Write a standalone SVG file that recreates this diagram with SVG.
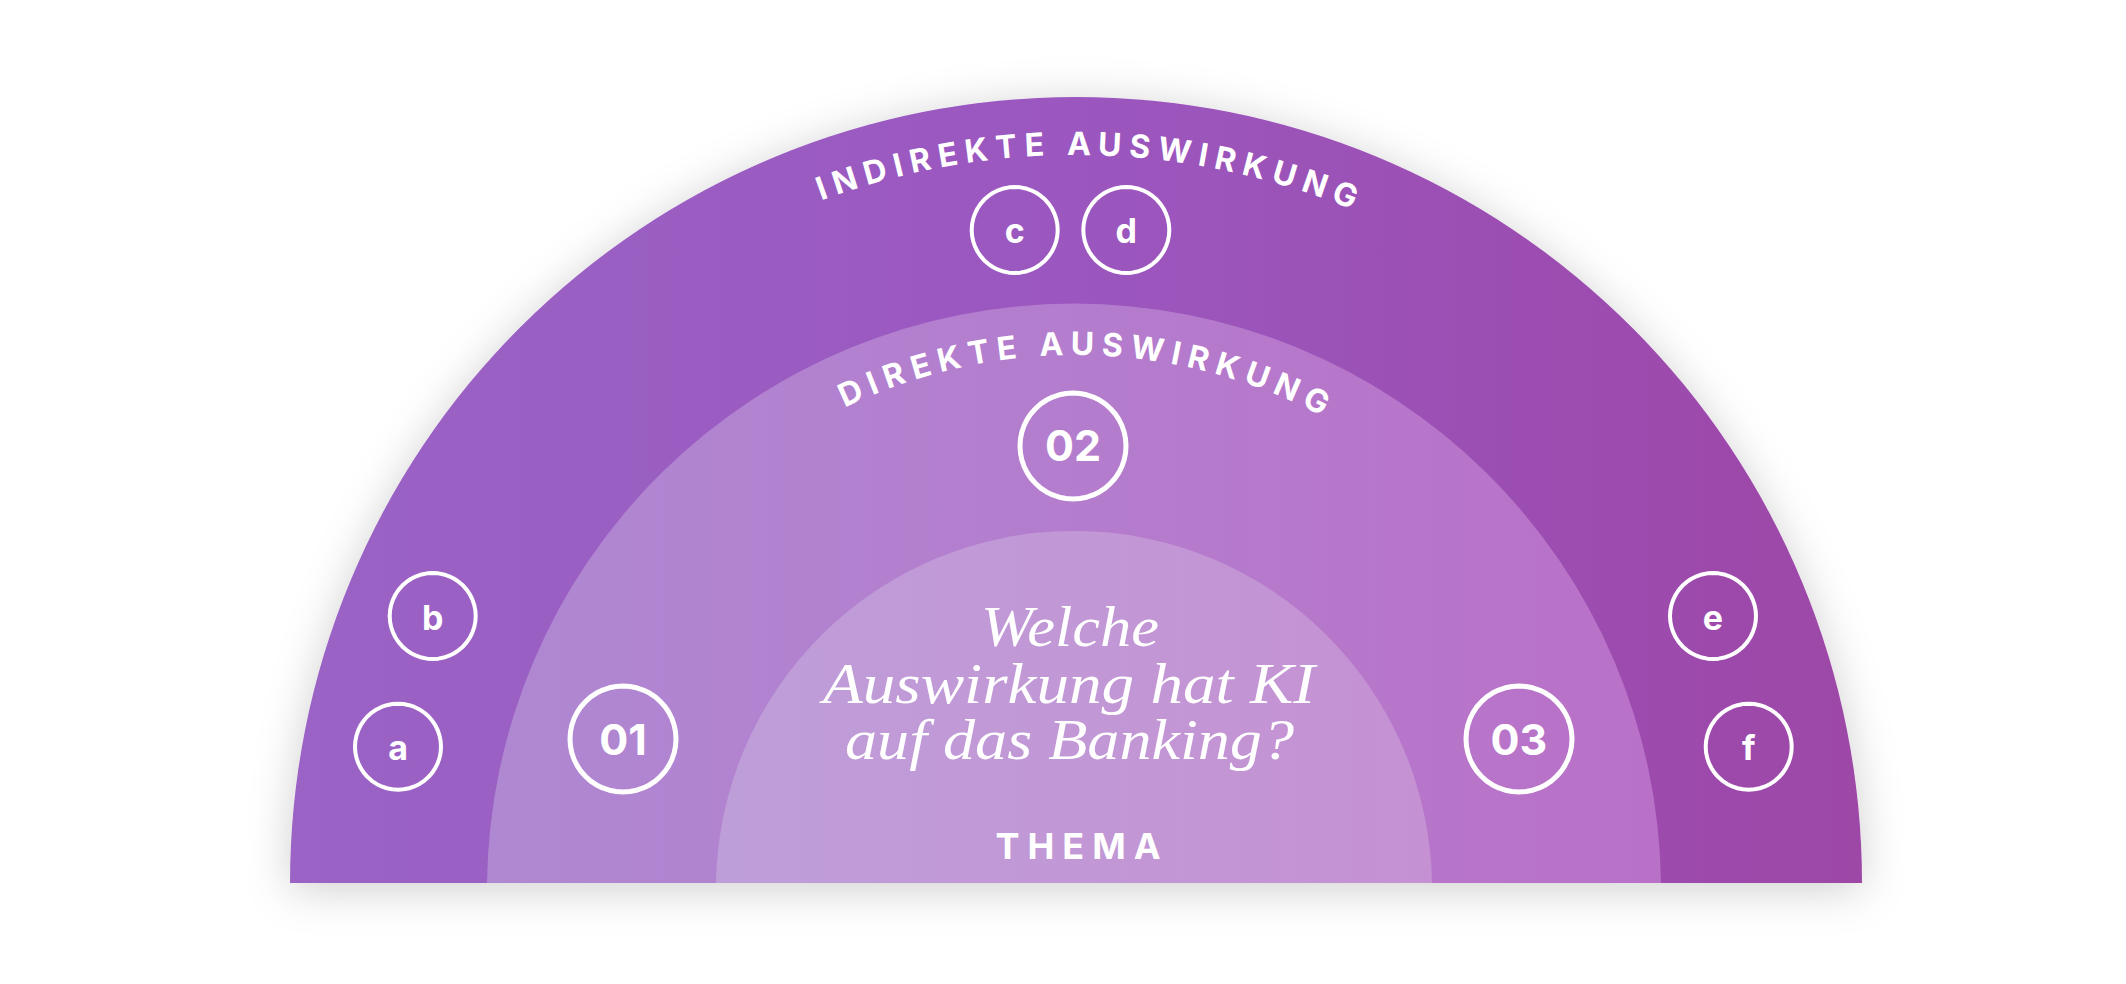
<svg xmlns="http://www.w3.org/2000/svg" width="2126" height="984" viewBox="0 0 2126 984">
  <defs>
    <linearGradient id="gOuter" gradientUnits="userSpaceOnUse" x1="290" y1="0" x2="1862" y2="0">
      <stop offset="0" stop-color="#9A63C5"/>
      <stop offset="0.5" stop-color="#9B57BF"/>
      <stop offset="1" stop-color="#9D47A7"/>
    </linearGradient>
    <linearGradient id="gMiddle" gradientUnits="userSpaceOnUse" x1="487" y1="0" x2="1661" y2="0">
      <stop offset="0" stop-color="#AF88D2"/>
      <stop offset="1" stop-color="#B971C8"/>
    </linearGradient>
    <linearGradient id="gInner" gradientUnits="userSpaceOnUse" x1="716" y1="0" x2="1432" y2="0">
      <stop offset="0" stop-color="#BE9ED8"/>
      <stop offset="1" stop-color="#C591D3"/>
    </linearGradient>
    <filter id="shadow" x="-10%" y="-20%" width="120%" height="140%">
      <feGaussianBlur in="SourceAlpha" stdDeviation="22"/>
      <feOffset dy="6" result="b"/>
      <feFlood flood-color="#000" flood-opacity="0.19"/>
      <feComposite in2="b" operator="in"/>
      <feMerge><feMergeNode/><feMergeNode in="SourceGraphic"/></feMerge>
    </filter>
    <path id="arcIndirekt" d="M 442.8 520 A 730 730 0 0 1 1707.2 520"/>
    <path id="arcDirekt" d="M 616 620 A 530 530 0 0 1 1534 620"/>
    <polygon id="unitRing" points="1,0 .99144,.13053 .96593,.25882 .92388,.38268 .86603,.5 .79335,.60876 .70711,.70711 .60876,.79335 .5,.86603 .38268,.92388 .25882,.96593 .13053,.99144 0,1 -.13053,.99144 -.25882,.96593 -.38268,.92388 -.5,.86603 -.60876,.79335 -.70711,.70711 -.79335,.60876 -.86603,.5 -.92388,.38268 -.96593,.25882 -.99144,.13053 -1,0 -.99144,-.13053 -.96593,-.25882 -.92388,-.38268 -.86603,-.5 -.79335,-.60876 -.70711,-.70711 -.60876,-.79335 -.5,-.86603 -.38268,-.92388 -.25882,-.96593 -.13053,-.99144 0,-1 .13053,-.99144 .25882,-.96593 .38268,-.92388 .5,-.86603 .60876,-.79335 .70711,-.70711 .79335,-.60876 .86603,-.5 .92388,-.38268 .96593,-.25882 .99144,-.13053"/>
    <style>
      .ring { stroke: #FFFFFF; fill: none; stroke-linejoin: round; }
      .small { stroke-width: 0.093; }
      .big { stroke-width: 0.0943; }
      .lbl { font-family: Inter, "Liberation Sans", sans-serif; font-weight: 700; fill: #FFFFFF; text-anchor: middle; }
      .letter { font-size: 34px; }
      .num { font-size: 43px; }
      .arc { font-family: Inter, "Liberation Sans", sans-serif; font-weight: 700; font-size: 32px; letter-spacing: 7.4px; fill: #FFFFFF; }
      .title { font-family: "Liberation Serif", serif; font-style: italic; font-size: 56px; fill: #FFFFFF; text-anchor: middle; }
      .thema { font-family: Inter, "Liberation Sans", sans-serif; font-weight: 700; font-size: 36px; letter-spacing: 8px; fill: #FFFFFF; text-anchor: middle; }
    </style>
  </defs>

  <rect x="0" y="0" width="2126" height="984" fill="#FFFFFF"/>

  <g id="outer-ring">
    <path d="M 290 883 A 786 786 0 0 1 1862 883 Z" fill="url(#gOuter)" filter="url(#shadow)"/>
    <text class="arc"><textPath href="#arcIndirekt" startOffset="780.5" text-anchor="middle">INDIREKTE AUSWIRKUNG</textPath></text>
  </g>

  <g id="middle-ring">
    <path d="M 487 883 A 587.05 587.05 0 0 1 1661 883 Z" fill="url(#gMiddle)"/>
    <text class="arc"><textPath href="#arcDirekt" startOffset="568" text-anchor="middle">DIREKTE AUSWIRKUNG</textPath></text>
  </g>

  <g id="inner-ring">
    <path d="M 716 883 A 358.05 358.05 0 0 1 1432 883 Z" fill="url(#gInner)"/>
  </g>

  <g id="thema">
    <text class="title" x="1070" y="646" textLength="178" lengthAdjust="spacingAndGlyphs">Welche</text>
    <text class="title" x="1069" y="703" textLength="492" lengthAdjust="spacingAndGlyphs">Auswirkung hat KI</text>
    <text class="title" x="1069.5" y="759" textLength="449" lengthAdjust="spacingAndGlyphs">auf das Banking?</text>
    <text class="thema" x="1082" y="859">THEMA</text>
  </g>

  <g id="node-a">
    <use href="#unitRing" class="ring small" transform="translate(398 746.7) scale(43)"/>
    <text class="lbl letter" x="398" y="760">a</text>
  </g>
  <g id="node-b">
    <use href="#unitRing" class="ring small" transform="translate(432.7 616) scale(43)"/>
    <text class="lbl letter" x="432.7" y="629.5">b</text>
  </g>
  <g id="node-c">
    <use href="#unitRing" class="ring small" transform="translate(1014.7 230) scale(43)"/>
    <text class="lbl letter" x="1014.7" y="243">c</text>
  </g>
  <g id="node-d">
    <use href="#unitRing" class="ring small" transform="translate(1126.3 230) scale(43)"/>
    <text class="lbl letter" x="1126.3" y="243">d</text>
  </g>
  <g id="node-e">
    <use href="#unitRing" class="ring small" transform="translate(1713 616) scale(43)"/>
    <text class="lbl letter" x="1713" y="629.5">e</text>
  </g>
  <g id="node-f">
    <use href="#unitRing" class="ring small" transform="translate(1748.7 746.7) scale(43)"/>
    <text class="lbl letter" x="1748.7" y="760">f</text>
  </g>

  <g id="node-01">
    <use href="#unitRing" class="ring big" transform="translate(623 739) scale(53)"/>
    <text class="lbl num" x="623" y="755">01</text>
  </g>
  <g id="node-02">
    <use href="#unitRing" class="ring big" transform="translate(1073 446) scale(53)"/>
    <text class="lbl num" x="1073" y="461">02</text>
  </g>
  <g id="node-03">
    <use href="#unitRing" class="ring big" transform="translate(1519 739) scale(53)"/>
    <text class="lbl num" x="1519" y="755">03</text>
  </g>

  <g id="connectors"/>
</svg>
